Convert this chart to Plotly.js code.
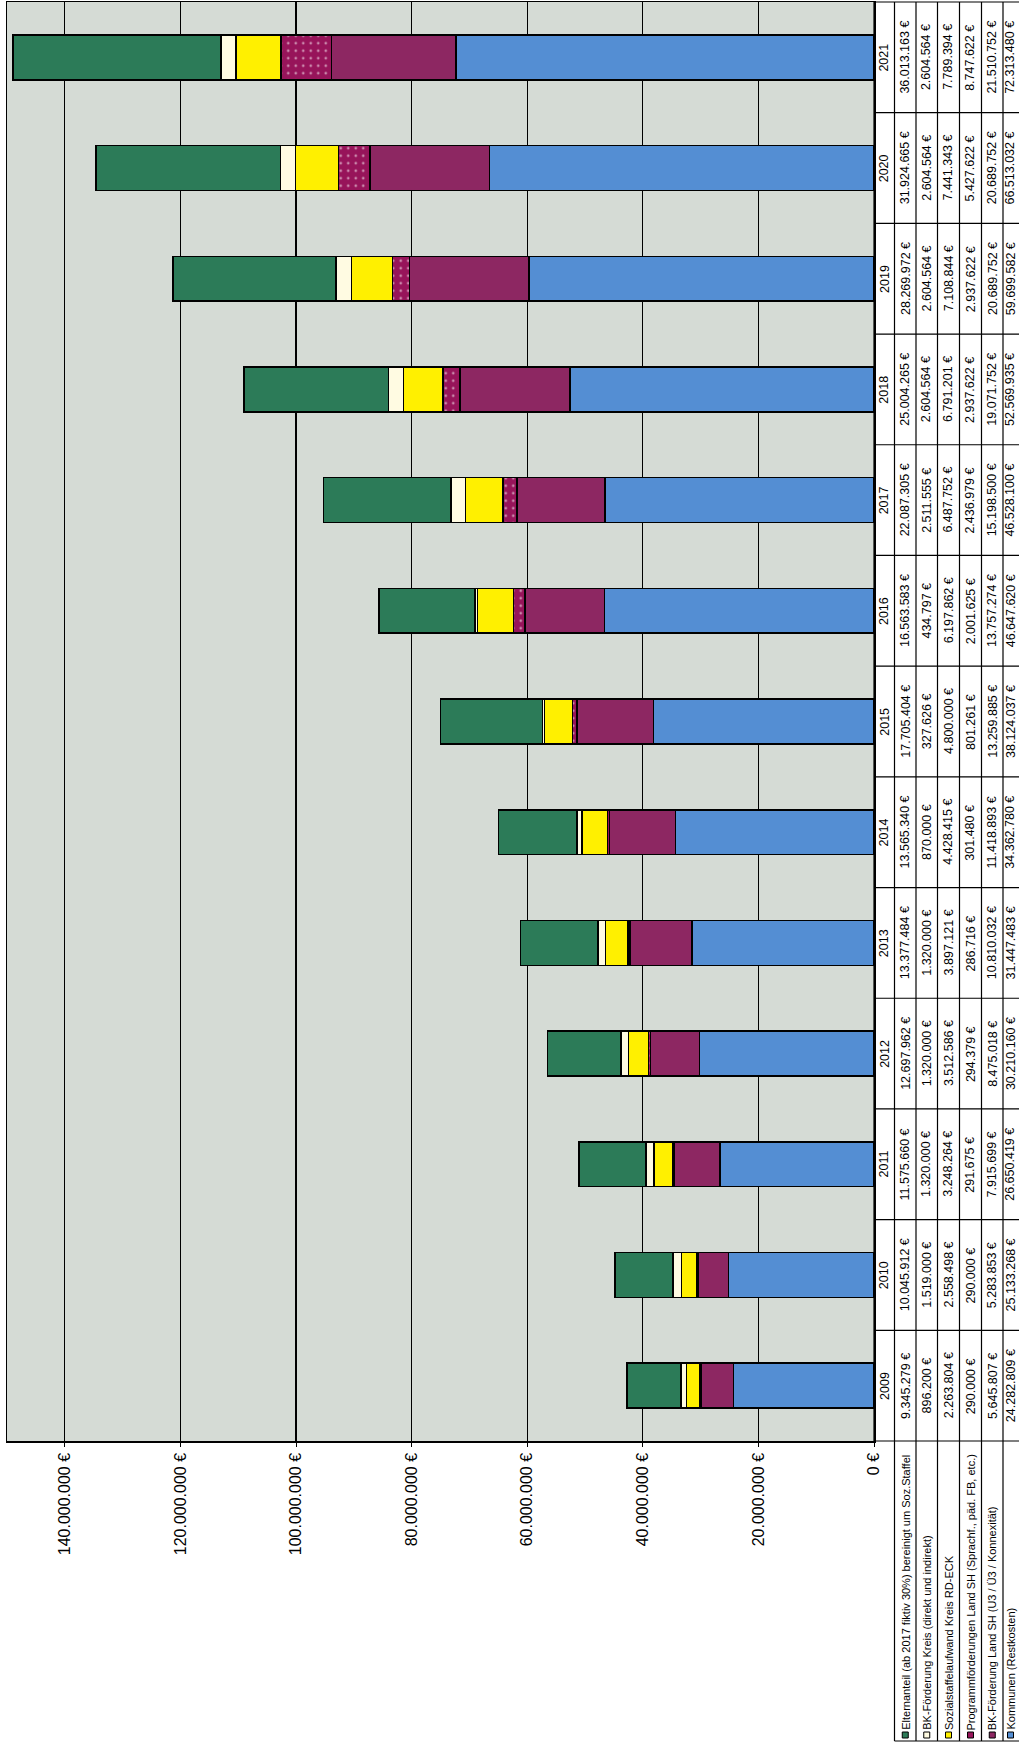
<!DOCTYPE html>
<html>
<head>
<meta charset="utf-8">
<script src="https://cdn.plot.ly/plotly-3.0.1.min.js"></script>
<style>
html, body { margin: 0; padding: 0; background: #ffffff; }
#chart { width: 1019px; height: 1745px; }
</style>
</head>
<body>
<div id="chart"></div>
<script>
// ---------------- DATA ----------------
const years = ['2009','2010','2011','2012','2013','2014','2015','2016','2017','2018','2019','2020','2021'];

const elternanteil  = [9345279, 10045912, 11575660, 12697962, 13377484, 13565340, 17705404, 16563583, 22087305, 25004265, 28269972, 31924665, 36013163];
const bkKreis       = [896200, 1519000, 1320000, 1320000, 1320000, 870000, 327626, 434797, 2511555, 2604564, 2604564, 2604564, 2604564];
const sozialstaffel = [2263804, 2558498, 3248264, 3512586, 3897121, 4428415, 4800000, 6197862, 6487752, 6791201, 7108844, 7441343, 7789394];
const programm      = [290000, 290000, 291675, 294379, 286716, 301480, 801261, 2001625, 2436979, 2937622, 2937622, 5427622, 8747622];
const bkLand        = [5645807, 5283853, 7915699, 8475018, 10810032, 11418893, 13259885, 13757274, 15198500, 19071752, 20689752, 20689752, 21510752];
const kommunen      = [24282809, 25133268, 26650419, 30210160, 31447483, 34362780, 38124037, 46647620, 46528100, 52569935, 59699582, 66513032, 72313480];

const seriesLabels = [
  'Elternanteil (ab 2017 fiktiv 30%) bereinigt um Soz.Staffel',
  'BK-Förderung Kreis (direkt und indirekt)',
  'Sozialstaffelaufwand Kreis RD-ECK',
  'Programmförderungen Land SH (Sprachf., päd. FB, etc.)',
  'BK-Förderung Land SH (U3 / Ü3 / Konnexität)',
  'Kommunen (Restkosten)'
];

const valueTicks = [0, 20000000, 40000000, 60000000, 80000000, 100000000, 120000000, 140000000];

// ---------------- STYLE ----------------
const colors = {
  eltern:   '#2c7b58',
  bkKreis:  '#fffbe2',
  sozial:   '#fff000',
  programm: '#97145a',
  bkLand:   '#8d2762',
  kommunen: '#548ed3'
};
const FONT = 'Arial, "Liberation Sans", sans-serif';

function fmt(v) {
  return String(Math.round(v)).replace(/\B(?=(\d{3})+(?!\d))/g, '.') + ' €';
}

const tableRows = [
  { label: seriesLabels[0], values: elternanteil,  color: colors.eltern },
  { label: seriesLabels[1], values: bkKreis,       color: colors.bkKreis },
  { label: seriesLabels[2], values: sozialstaffel, color: colors.sozial },
  { label: seriesLabels[3], values: programm,      color: colors.programm },
  { label: seriesLabels[4], values: bkLand,        color: colors.bkLand },
  { label: seriesLabels[5], values: kommunen,      color: colors.kommunen }
];

// ---------------- GEOMETRY (pixels) ----------------
const W = 1019, H = 1745;
const mL = 7, plotRight = 874, mT = 2, plotBottom = 1441;
const pw = plotRight - mL, ph = plotBottom - mT;
const px = X => (X - mL) / pw;
const py = Y => (plotBottom - Y) / ph;

const colEdges = [874, 894.5, 916, 937.5, 959.5, 981.5, 1003, 1025];
const colCenter = i => Math.min((colEdges[i] + colEdges[i + 1]) / 2, 1010.5);
const legendBottomY = 1741;

// ---------------- TRACES ----------------
const line = { color: '#000000', width: 1.5 };
function barTrace(name, vals, color, extra) {
  return {
    type: 'bar', orientation: 'h', name: name,
    y: years, x: vals,
    marker: Object.assign({ color: color, line: line }, extra || {}),
    hoverinfo: 'skip'
  };
}
const data = [
  barTrace(seriesLabels[5], kommunen, colors.kommunen),
  barTrace(seriesLabels[4], bkLand, colors.bkLand),
  barTrace(seriesLabels[3], programm, colors.programm, {
    pattern: { shape: '.', fgcolor: '#ffffff', size: 7.5, solidity: 0.1, fillmode: 'overlay' }
  }),
  barTrace(seriesLabels[2], sozialstaffel, colors.sozial),
  barTrace(seriesLabels[1], bkKreis, colors.bkKreis),
  barTrace(seriesLabels[0], elternanteil, colors.eltern)
];

// ---------------- TABLE (shapes + annotations) ----------------
const shapes = [];
const annotations = [];
const tl = { color: '#000000', width: 1.2 };

for (let k = 0; k <= years.length; k++) {
  shapes.push({ type: 'line', xref: 'paper', yref: 'paper',
    x0: px(colEdges[0]), x1: px(colEdges[colEdges.length - 1]),
    y0: k / years.length, y1: k / years.length, line: tl });
}
for (let i = 0; i < colEdges.length; i++) {
  shapes.push({ type: 'line', xref: 'paper', yref: 'paper',
    x0: px(colEdges[i]), x1: px(colEdges[i]), y0: 0, y1: 1, line: tl });
}
for (let i = 1; i < colEdges.length; i++) {
  shapes.push({ type: 'line', xref: 'paper', yref: 'paper',
    x0: px(colEdges[i]), x1: px(colEdges[i]), y0: 0, y1: py(legendBottomY), line: tl });
}
shapes.push({ type: 'line', xref: 'paper', yref: 'paper',
  x0: px(colEdges[1]), x1: px(colEdges[colEdges.length - 1]),
  y0: py(legendBottomY), y1: py(legendBottomY), line: tl });

// year header cells (category axis: position = category index)
years.forEach(function (yr, j) {
  annotations.push({ xref: 'paper', yref: 'y', x: px(colCenter(0)), y: j,
    text: yr, showarrow: false, textangle: -90, xanchor: 'center', yanchor: 'middle',
    borderpad: 0, font: { family: FONT, size: 12.5, color: '#000' } });
});
tableRows.forEach(function (row, r) {
  const cx = colCenter(r + 1);
  row.values.forEach(function (v, j) {
    annotations.push({ xref: 'paper', yref: 'y', x: px(cx), y: j,
      text: fmt(v), showarrow: false, textangle: -90, xanchor: 'center', yanchor: 'middle',
      borderpad: 0, font: { family: FONT, size: 12.5, color: '#000' } });
  });
  shapes.push({ type: 'rect', xref: 'paper', yref: 'paper',
    x0: px(cx - 3), x1: px(cx + 3), y0: py(1738), y1: py(1732),
    fillcolor: row.color, line: { color: '#000', width: 1 } });
  annotations.push({ xref: 'paper', yref: 'paper', x: px(cx), y: py(1731),
    text: row.label, showarrow: false, textangle: -90, xanchor: 'center', yanchor: 'bottom',
    borderpad: 0, font: { family: FONT, size: 11, color: '#000' } });
});

// ---------------- LAYOUT ----------------
const layout = {
  width: W, height: H,
  margin: { l: mL, r: W - plotRight, t: mT, b: H - plotBottom, autoexpand: false },
  paper_bgcolor: '#ffffff',
  plot_bgcolor: '#d5dbd5',
  barmode: 'stack',
  bargap: 0.595,
  showlegend: false,
  hovermode: false,
  font: { family: FONT, color: '#000' },
  xaxis: {
    range: [150000000, 0],
    tickvals: valueTicks,
    ticktext: valueTicks.map(fmt),
    tickangle: -90,
    tickfont: { family: FONT, size: 16, color: '#000' },
    ticks: 'outside', ticklen: 4, tickcolor: '#000', tickwidth: 1,
    showgrid: true, gridcolor: '#000000', gridwidth: 1.2,
    zeroline: false,
    showline: true, linecolor: '#000', linewidth: 1.5, mirror: true,
    fixedrange: true
  },
  yaxis: {
    type: 'category',
    categoryorder: 'array', categoryarray: years,
    range: [-0.5, years.length - 0.5],
    showticklabels: false, ticks: '',
    showgrid: false, zeroline: false,
    showline: true, linecolor: '#000', linewidth: 1.5, mirror: true,
    fixedrange: true
  },
  shapes: shapes,
  annotations: annotations
};

Plotly.newPlot('chart', data, layout, { staticPlot: true, displayModeBar: false });
</script>
</body>
</html>
